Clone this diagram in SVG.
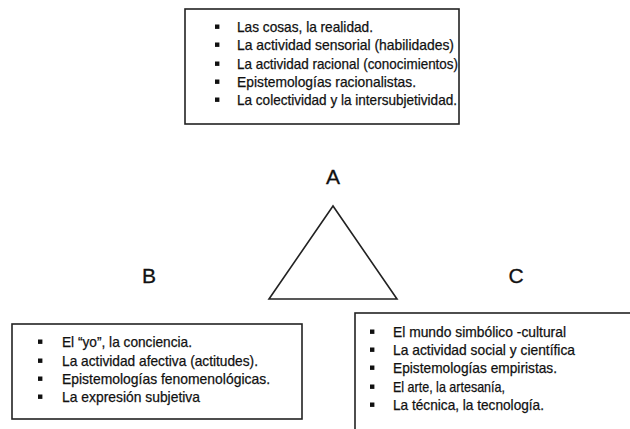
<svg xmlns="http://www.w3.org/2000/svg" width="630" height="429" viewBox="0 0 630 429">
<style>
.box{fill:#fff;stroke:#222;stroke-width:1.6}
.t{font-family:"Liberation Sans",Arial,sans-serif;font-size:14.5px;fill:#111;stroke:#111;stroke-width:0.25}
.lbl{font-family:"Liberation Sans",Arial,sans-serif;font-size:21px;fill:#111;text-anchor:middle;stroke:#111;stroke-width:0.3}
.b{fill:#111}
</style>
<defs>
<rect id="bul" x="-2" y="-7.5" width="4.4" height="4.4"/>
</defs>
<rect width="630" height="429" fill="#fff"/>
<g id="nodeA">
<rect class="box" x="185" y="9" width="274" height="115"/>
<g class="b">
<use href="#bul" x="217" y="32"/><use href="#bul" x="217" y="50"/><use href="#bul" x="217" y="69"/><use href="#bul" x="217" y="87"/><use href="#bul" x="217" y="105"/>
</g>
<text class="t" x="237" y="32" textLength="136" lengthAdjust="spacingAndGlyphs">Las cosas, la realidad.</text>
<text class="t" x="237" y="50" textLength="217" lengthAdjust="spacingAndGlyphs">La actividad sensorial (habilidades)</text>
<text class="t" x="237" y="69" textLength="221" lengthAdjust="spacingAndGlyphs">La actividad racional (conocimientos)</text>
<text class="t" x="237" y="87" textLength="179" lengthAdjust="spacingAndGlyphs">Epistemologías racionalistas.</text>
<text class="t" x="237" y="105" textLength="220" lengthAdjust="spacingAndGlyphs">La colectividad y la intersubjetividad.</text>
<text class="lbl" x="333" y="184">A</text>
</g>
<g id="nodeB">
<text class="lbl" x="149" y="283">B</text>
<rect class="box" x="12" y="324" width="290" height="95"/>
<g class="b">
<use href="#bul" x="40" y="347"/><use href="#bul" x="40" y="366"/><use href="#bul" x="40" y="384"/><use href="#bul" x="40" y="402"/>
</g>
<text class="t" x="62" y="347" textLength="130" lengthAdjust="spacingAndGlyphs">El “yo”, la conciencia.</text>
<text class="t" x="62" y="366" textLength="196" lengthAdjust="spacingAndGlyphs">La actividad afectiva (actitudes).</text>
<text class="t" x="62" y="384" textLength="208" lengthAdjust="spacingAndGlyphs">Epistemologías fenomenológicas.</text>
<text class="t" x="62" y="402" textLength="138" lengthAdjust="spacingAndGlyphs">La expresión subjetiva</text>
</g>
<g id="nodeC">
<text class="lbl" x="516" y="283">C</text>
<rect class="box" x="355" y="313" width="290" height="130"/>
<g class="b">
<use href="#bul" x="372" y="337"/><use href="#bul" x="372" y="355"/><use href="#bul" x="372" y="373"/><use href="#bul" x="372" y="392"/><use href="#bul" x="372" y="410"/>
</g>
<text class="t" x="393" y="337" textLength="173" lengthAdjust="spacingAndGlyphs">El mundo simbólico -cultural</text>
<text class="t" x="393" y="355" textLength="182" lengthAdjust="spacingAndGlyphs">La actividad social y científica</text>
<text class="t" x="393" y="373" textLength="164" lengthAdjust="spacingAndGlyphs">Epistemologías empiristas.</text>
<text class="t" x="393" y="392" textLength="112" lengthAdjust="spacingAndGlyphs">El arte, la artesanía,</text>
<text class="t" x="393" y="410" textLength="151" lengthAdjust="spacingAndGlyphs">La técnica, la tecnología.</text>
</g>
<g id="connectors">
<polygon points="333,206 269,299 397,299" fill="none" stroke="#222" stroke-width="1.6"/>
</g>
</svg>
